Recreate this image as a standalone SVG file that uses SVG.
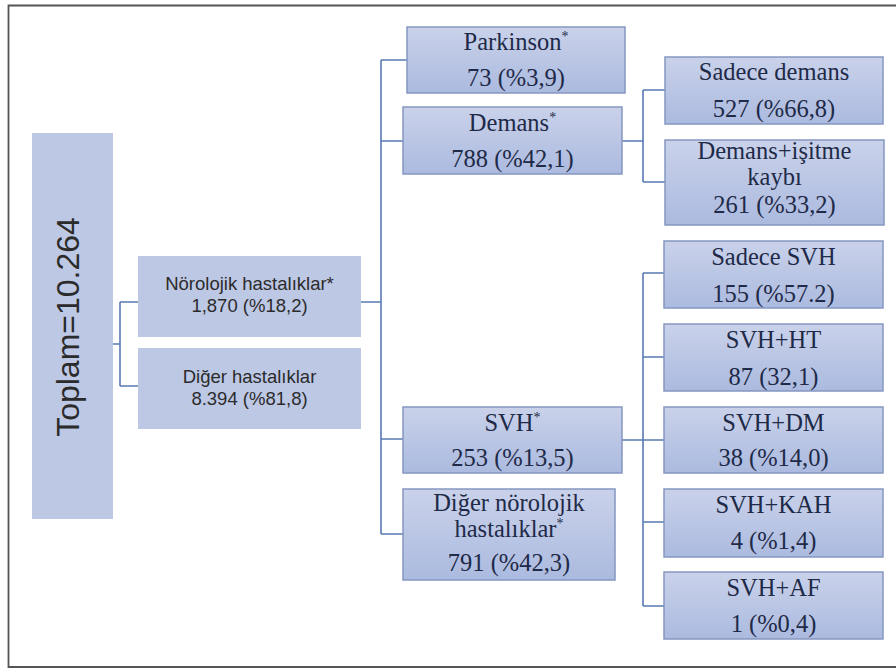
<svg xmlns="http://www.w3.org/2000/svg" width="896" height="669" viewBox="0 0 896 669">
<defs>
<linearGradient id="g" x1="0" y1="0" x2="0" y2="1">
<stop offset="0" stop-color="#cad2ea"/>
<stop offset="1" stop-color="#abbadf"/>
</linearGradient>
<style>
.flat{fill:#bdc8e5;}
.box{fill:url(#g);stroke:#8596c0;stroke-width:1.5;}
.sans{font-family:"Liberation Sans",Arial,sans-serif;fill:#2b2b2b;text-anchor:middle;}
.serif{font-family:"Liberation Serif","Times New Roman",serif;font-size:24.5px;fill:#1e2a48;text-anchor:middle;}
.con{fill:none;stroke:#5a7bb3;stroke-width:1.6;}
</style>
</defs>
<rect width="896" height="669" fill="#ffffff"/>
<path d="M896,5.5 H8.5 V667 H896" fill="none" stroke="#555" stroke-width="1.8"/>
<g id="connectors">
<path class="con" d="M113,344 H120 M120,302 V386 M120,302 H138 M120,386 H138"/>
<path class="con" d="M361,302 H381 M381,60 V534 M381,60 H407 M381,141 H403 M381,439 H403 M381,534 H403"/>
<path class="con" d="M622,141 H643 M643,90 V182 M643,90 H665 M643,182 H665"/>
<path class="con" d="M622,440 H643 M643,273 V606 M643,273 H664 M643,357 H664 M643,440 H664 M643,522 H664 M643,606 H664"/>
</g>
<g id="toplam">
<rect class="flat" x="32" y="133" width="81" height="386"/>
<text class="sans" font-size="32" transform="translate(79,327) rotate(-90)" x="0" y="0">Toplam=10.264</text>
</g>
<g id="norolojik">
<rect class="flat" x="138" y="256" width="223" height="81"/>
<text class="sans" font-size="18.5" x="249.5" y="290">Nörolojik hastalıklar*</text>
<text class="sans" font-size="18.5" x="249.5" y="312">1,870 (%18,2)</text>
</g>
<g id="diger">
<rect class="flat" x="138" y="348" width="223" height="81"/>
<text class="sans" font-size="18.5" x="249.5" y="382.5">Diğer hastalıklar</text>
<text class="sans" font-size="18.5" x="249.5" y="405">8.394 (%81,8)</text>
</g>
<g id="parkinson">
<rect class="box" x="407" y="27" width="218" height="66"/>
<text class="serif" x="516" y="50">Parkinson<tspan font-size="14" dy="-9">*</tspan></text>
<text class="serif" x="516" y="86">73 (%3,9)</text>
</g>
<g id="demans">
<rect class="box" x="403" y="107" width="219" height="67"/>
<text class="serif" x="512.5" y="131">Demans<tspan font-size="14" dy="-9">*</tspan></text>
<text class="serif" x="512.5" y="167">788 (%42,1)</text>
</g>
<g id="svh">
<rect class="box" x="403" y="407" width="219" height="66"/>
<text class="serif" x="512.5" y="431">SVH<tspan font-size="14" dy="-9">*</tspan></text>
<text class="serif" x="512.5" y="466">253 (%13,5)</text>
</g>
<g id="diger-norolojik">
<rect class="box" x="403" y="489" width="212" height="91"/>
<text class="serif" x="509" y="511">Diğer nörolojik</text>
<text class="serif" x="509" y="537">hastalıklar<tspan font-size="14" dy="-9">*</tspan></text>
<text class="serif" x="509" y="571">791 (%42,3)</text>
</g>
<g id="sadece-demans">
<rect class="box" x="665" y="57" width="218" height="67"/>
<text class="serif" x="774" y="80">Sadece demans</text>
<text class="serif" x="774" y="117">527 (%66,8)</text>
</g>
<g id="demans-isitme">
<rect class="box" x="665" y="140" width="219" height="85"/>
<text class="serif" x="774.5" y="159">Demans+işitme</text>
<text class="serif" x="774.5" y="185">kaybı</text>
<text class="serif" x="774.5" y="213">261 (%33,2)</text>
</g>
<g id="sadece-svh">
<rect class="box" x="664" y="241" width="219" height="67"/>
<text class="serif" x="773.5" y="265">Sadece SVH</text>
<text class="serif" x="773.5" y="302">155 (%57.2)</text>
</g>
<g id="svh-ht">
<rect class="box" x="664" y="324" width="219" height="67"/>
<text class="serif" x="773.5" y="348">SVH+HT</text>
<text class="serif" x="773.5" y="385">87 (32,1)</text>
</g>
<g id="svh-dm">
<rect class="box" x="664" y="407" width="219" height="66"/>
<text class="serif" x="773.5" y="431">SVH+DM</text>
<text class="serif" x="773.5" y="466">38 (%14,0)</text>
</g>
<g id="svh-kah">
<rect class="box" x="664" y="489" width="219" height="68"/>
<text class="serif" x="773.5" y="513">SVH+KAH</text>
<text class="serif" x="773.5" y="549">4 (%1,4)</text>
</g>
<g id="svh-af">
<rect class="box" x="664" y="572" width="219" height="67"/>
<text class="serif" x="773.5" y="596">SVH+AF</text>
<text class="serif" x="773.5" y="632">1 (%0,4)</text>
</g>
</svg>
